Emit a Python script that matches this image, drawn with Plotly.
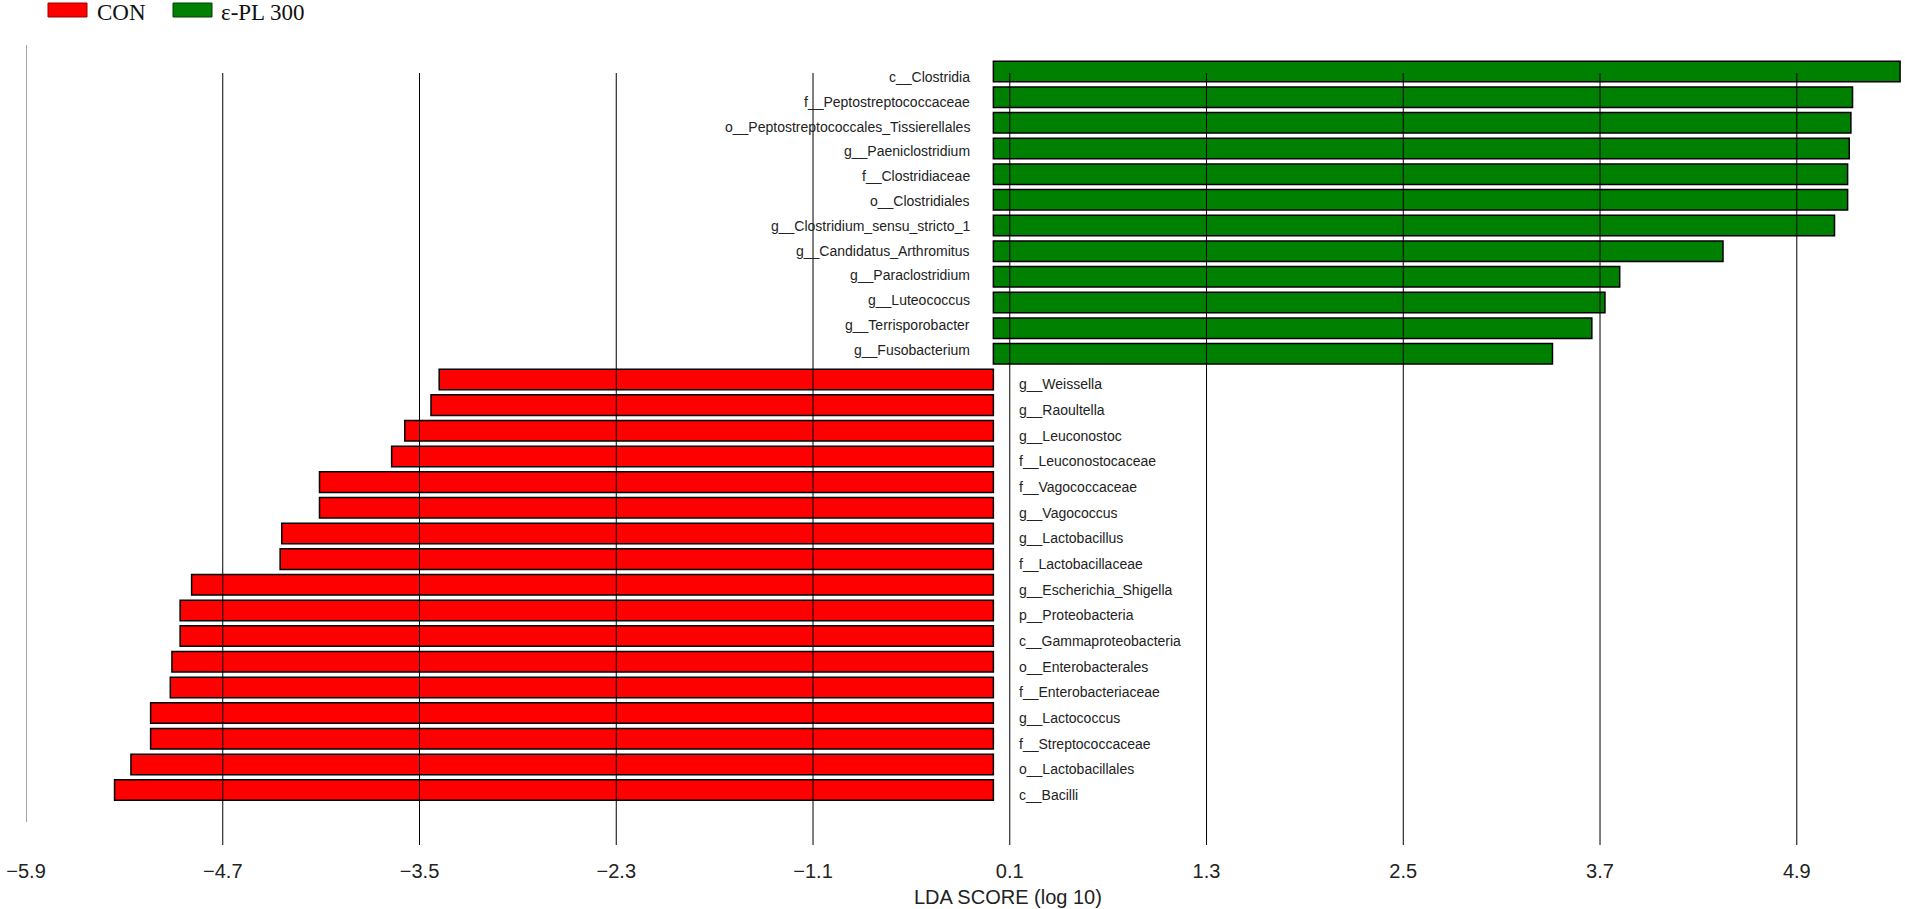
import plotly.graph_objects as go

# groups and colours of the LEfSe plot
groups = ["CON", "ε-PL 300"]
group_colors = ["#FF0000", "#008000"]

# taxa enriched in e-PL 300 (top to bottom) and their LDA scores
taxa_pl = [
    "c__Clostridia",
    "f__Peptostreptococcaceae",
    "o__Peptostreptococcales_Tissierellales",
    "g__Paeniclostridium",
    "f__Clostridiaceae",
    "o__Clostridiales",
    "g__Clostridium_sensu_stricto_1",
    "g__Candidatus_Arthromitus",
    "g__Paraclostridium",
    "g__Luteococcus",
    "g__Terrisporobacter",
    "g__Fusobacterium",
]
lda_pl = [5.53, 5.24, 5.23, 5.22, 5.21, 5.21, 5.13, 4.45, 3.82, 3.73, 3.65, 3.41]

# taxa enriched in CON (top to bottom), scores drawn negative
taxa_con = [
    "g__Weissella",
    "g__Raoultella",
    "g__Leuconostoc",
    "f__Leuconostocaceae",
    "f__Vagococcaceae",
    "g__Vagococcus",
    "g__Lactobacillus",
    "f__Lactobacillaceae",
    "g__Escherichia_Shigella",
    "p__Proteobacteria",
    "c__Gammaproteobacteria",
    "o__Enterobacterales",
    "f__Enterobacteriaceae",
    "g__Lactococcus",
    "f__Streptococcaceae",
    "o__Lactobacillales",
    "c__Bacilli",
]
lda_con = [-3.38, -3.43, -3.59, -3.67, -4.11, -4.11, -4.34, -4.35, -4.89,
           -4.96, -4.96, -5.01, -5.02, -5.14, -5.14, -5.26, -5.36]

ticks = [-5.9, -4.7, -3.5, -2.3, -1.1, 0.1, 1.3, 2.5, 3.7, 4.9]
tick_text = [("−%.1f" % -t) if t < 0 else "%.1f" % t for t in ticks]

W, H = 1905, 909
L, R, T, B = 26, 0, 45, 64
order = taxa_pl + taxa_con


# page pixel -> paper coords (only used for the hand-made legend / title)
def px(x):
    return (x - L) / (W - L - R)


def py(y):
    return (H - B - y) / (H - T - B)


fig = go.Figure()
fig.add_bar(y=taxa_pl, x=lda_pl, orientation="h", name=groups[1],
            marker=dict(color=group_colors[1], line=dict(color="black", width=1.5)))
fig.add_bar(y=taxa_con, x=lda_con, orientation="h", name=groups[0],
            marker=dict(color=group_colors[0], line=dict(color="black", width=1.5)))

label_font = dict(family="Liberation Sans, Arial, sans-serif", size=14, color="#222222")
annotations = []
# the green labels sit on a slightly tighter pitch than the bars in the original
n = len(taxa_pl)
for i, t in enumerate(taxa_pl):
    annotations.append(dict(x=0, y=t, xref="x", yref="y", text=t, showarrow=False,
                            xanchor="right", xshift=-21, yshift=-5.5 + 9.5 * i / (n - 1),
                            font=label_font))
for t in taxa_con:
    annotations.append(dict(x=0, y=t, xref="x", yref="y", text=t, showarrow=False,
                            xanchor="left", xshift=24, yshift=-5, font=label_font))

annotations.append(dict(x=px(1008), y=py(897), xref="paper", yref="paper",
                        text="LDA SCORE (log 10)", showarrow=False,
                        xanchor="center", yanchor="middle",
                        font=dict(family="Liberation Sans, Arial, sans-serif", size=20, color="#222222")))

shapes = []
for v in ticks[1:]:
    shapes.append(dict(type="line", xref="x", yref="paper", x0=v, x1=v, y0=0, y1=py(73),
                       line=dict(color="black", width=1), layer="above"))
shapes.append(dict(type="line", xref="x", yref="paper", x0=ticks[0], x1=ticks[0],
                   y0=py(822), y1=py(45), line=dict(color="#666666", width=1.2)))

# legend: coloured patches + serif text, as in the original
legend_items = [(groups[0], group_colors[0], "#990000", 48, 87, 95),
                (groups[1], group_colors[1], "#004000", 173, 212, 219)]
for name, fill, edge, x0, x1, xt in legend_items:
    shapes.append(dict(type="rect", xref="paper", yref="paper",
                       x0=px(x0), x1=px(x1), y0=py(17), y1=py(3),
                       fillcolor=fill, line=dict(color=edge, width=1)))
    annotations.append(dict(x=px(xt), y=py(13), xref="paper", yref="paper", text=name,
                            showarrow=False, xanchor="left", yanchor="middle",
                            font=dict(family="Liberation Serif, Times New Roman, serif",
                                      size=23, color="#111111")))

fig.update_layout(
    width=W, height=H,
    margin=dict(l=L, r=R, t=T, b=B),
    paper_bgcolor="white", plot_bgcolor="white",
    barmode="relative", bargap=0.2,
    showlegend=False,
    annotations=annotations, shapes=shapes,
)
fig.update_xaxes(range=[-5.9, 5.56], tickvals=ticks, ticktext=tick_text,
                 showgrid=False, zeroline=False, showline=False, ticks="",
                 ticklabelstandoff=12,
                 tickfont=dict(family="Liberation Sans, Arial, sans-serif", size=20, color="#222222"))
fig.update_yaxes(categoryorder="array", categoryarray=order,
                 range=[30.14, -1.033], showticklabels=False,
                 showgrid=False, zeroline=False, showline=False, ticks="")

fig.write_html("out.html", config={"displayModeBar": False},
               post_script="document.body.style.margin='0';")
